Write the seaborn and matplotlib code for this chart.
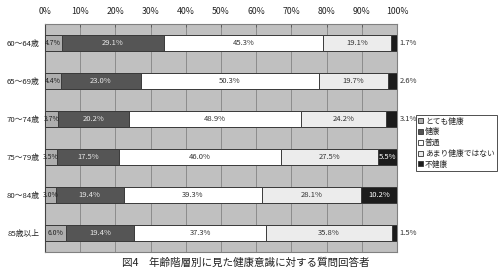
import matplotlib
matplotlib.use("Agg")
import matplotlib.pyplot as plt
from matplotlib.patches import Patch
import seaborn as sns
import pandas as pd
import numpy as np

sns.set_theme(style="white")
plt.rcParams['font.family'] = ['Noto Sans CJK JP', 'DejaVu Sans']

# ---- data ----
age_groups = ["60～64歳", "65～69歳", "70～74歳", "75～79歳", "80～84歳", "85歳以上"]
series_names = ["とても健康", "健康", "普通", "あまり健康ではない", "不健康"]
very_healthy = [4.7, 4.4, 3.7, 3.5, 3.0, 6.0]
healthy = [29.1, 23.0, 20.2, 17.5, 19.4, 19.4]
normal = [45.3, 50.3, 48.9, 46.0, 39.3, 37.3]
not_very_healthy = [19.1, 19.7, 24.2, 27.5, 28.1, 35.8]
unhealthy = [1.7, 2.6, 3.1, 5.5, 10.2, 1.5]
x_ticks = [0, 10, 20, 30, 40, 50, 60, 70, 80, 90, 100]
x_tick_labels = ["0%", "10%", "20%", "30%", "40%", "50%", "60%", "70%", "80%", "90%", "100%"]
caption = "図4　年齢階層別に見た健康意識に対する質問回答者"

colors = ["#aeaeae", "#555555", "#ffffff", "#ececec", "#1c1c1c"]
label_colors = ["#222222", "#e8e8e8", "#333333", "#333333", "#ffffff"]

series = [very_healthy, healthy, normal, not_very_healthy, unhealthy]
vals = np.array(series)            # shape (5, 6)
cum = np.cumsum(vals, axis=0)      # cumulative right edges

fig = plt.figure(figsize=(4.98, 2.73), dpi=100)
ax = fig.add_axes([0.0904, 0.0769, 0.7068, 0.834])
ax.set_facecolor("#c0c0c0")

# draw stacked bars: largest cumulative first, then overlay smaller ones
for i in range(len(series) - 1, -1, -1):
    df = pd.DataFrame({"age": age_groups, "cum": cum[i]})
    sns.barplot(data=df, x="cum", y="age", orient="h", color=colors[i],
                saturation=1, width=0.42, edgecolor="#3a3a3a", linewidth=0.7,
                ax=ax, zorder=3)

# value labels
for i in range(len(series)):
    for j in range(len(age_groups)):
        v = vals[i, j]
        left = cum[i, j] - v
        txt = f"{v:.1f}%"
        if i == 4 and v < 4:
            ax.text(100.8, j, txt, ha="left", va="center", fontsize=5.5,
                    color="#333333", zorder=5)
        else:
            ax.text(left + v / 2, j, txt, ha="center", va="center",
                    fontsize=5.5 if i else 5.0, color=label_colors[i], zorder=5)

ax.set_xlim(0, 100)
ax.set_ylim(len(age_groups) - 0.5, -0.5)
ax.xaxis.tick_top()
ax.set_xticks(x_ticks)
ax.set_xticklabels(x_tick_labels, fontsize=6.3, color="#222222")
ax.tick_params(axis="x", direction="in", length=2.5, width=0.6,
               color="#555555", pad=6)
ax.set_yticks(range(len(age_groups)))
ax.set_yticklabels(age_groups, fontsize=5.6, color="#222222")
ax.tick_params(axis="y", which="major", length=0, pad=4)
ax.set_yticks(np.arange(0.5, len(age_groups) - 0.5, 1), minor=True)
ax.tick_params(axis="y", which="minor", direction="in", length=2,
               width=0.6, color="#444444")
ax.set_xlabel("")
ax.set_ylabel("")
ax.grid(axis="x", color="#8c8c8c", linewidth=0.7, zorder=0)
ax.set_axisbelow(True)
for name, sp in ax.spines.items():
    sp.set_color("#808080")
    sp.set_linewidth(0.8)
ax.spines["left"].set_color("#444444")

handles = [Patch(facecolor=c, edgecolor="#333333", linewidth=0.6) for c in colors]
leg = fig.legend(handles, series_names, loc="upper right",
                 bbox_to_anchor=(0.998, 0.578), fontsize=5.6,
                 frameon=True, fancybox=False, edgecolor="#222222",
                 handlelength=0.6, handleheight=0.6, handletextpad=0.3,
                 labelspacing=0.35, borderpad=0.3, borderaxespad=0)
leg.get_frame().set_linewidth(0.7)

fig.text(0.494, 0.036, caption, ha="center", va="center", fontsize=7.6,
         color="#222222")

fig.savefig("out.png", dpi=100)
